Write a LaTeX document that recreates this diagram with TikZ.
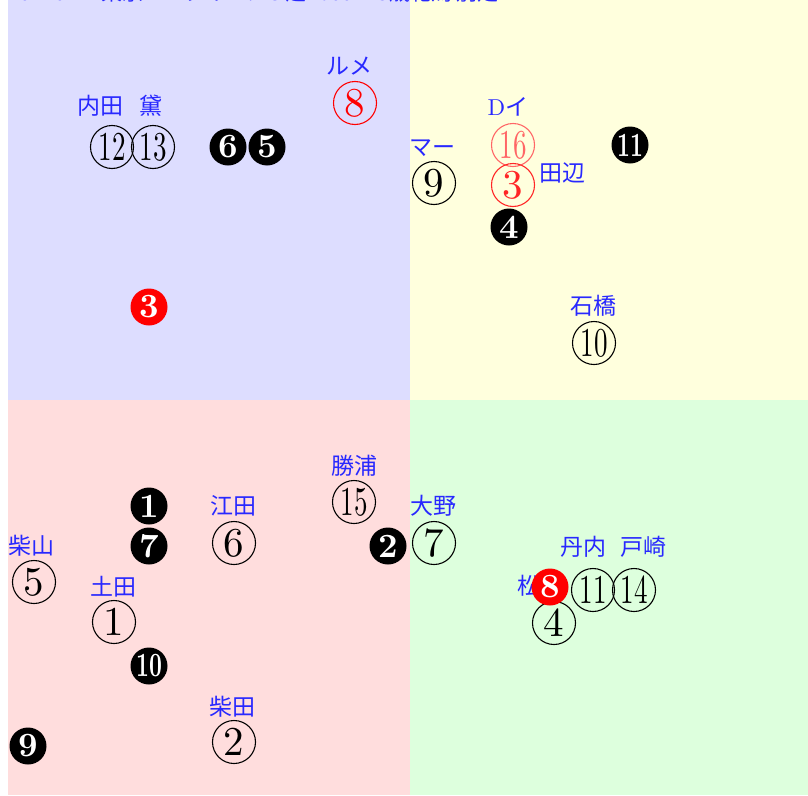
\documentclass[tikz,border=0pt]{standalone}
\usepackage{graphicx}
\usepackage{fontspec}
\newfontfamily\cjk{Noto Sans CJK JP}
\newfontfamily\numfont{lmroman10-regular}[Extension=.otf,BoldFont=lmroman10-bold]
\definecolor{qblue}{HTML}{DDDDFF}
\definecolor{qyellow}{HTML}{FFFFDD}
\definecolor{qpink}{HTML}{FFDDDD}
\definecolor{qgreen}{HTML}{DDFFDD}
\definecolor{jblue}{HTML}{2828FF}
\newcommand{\tw}[1]{\scalebox{0.66}[1]{#1}}

\begin{document}
\begin{tikzpicture}[x=1pt,y=-1pt]
  \def\r{43pt}
  \def\rb{37pt}

\tikzstyle{horse}=[circle,draw,line width=1.1pt,minimum size=\r,inner sep=0pt,font=\numfont\fontsize{41}{41}\selectfont]
\tikzstyle{place}=[circle,fill=black,text=white,minimum size=\rb,inner sep=0pt,font=\numfont\fontsize{34}{34}\selectfont\bfseries]
\tikzstyle{jockey}=[text=jblue,inner sep=0pt,text height=0.8em,text depth=0.1em,font=\cjk\fontsize{23}{23}\selectfont]
\useasboundingbox (0,0) rectangle (808,795);
\fill[qblue] (8,0) rectangle (410,400);
\fill[qyellow] (410,0) rectangle (808,400);
\fill[qpink] (8,400) rectangle (410,795);
\fill[qgreen] (410,400) rectangle (808,795);
\node[anchor=base west,text=jblue,inner sep=0pt,font=\cjk\fontsize{21}{21}\selectfont] (title) at (8,0.5) {20220212東京11R クイーンC 芝1600m 3歳牝馬 別定};
% hollow circles
\node[horse] (h12) at (112,147) {\tw{12}};
\node[horse] (h13) at (153,147) {\tw{13}};
\node[horse,red] (h8) at (355,103) {8};
\node[horse] (h9) at (434,183) {9};
\node[horse,red!60] (h16) at (513,145) {\tw{16}};
\node[horse,red!85] (h3) at (513,185) {3};
\node[horse] (h10) at (594,343) {\tw{10}};
\node[horse] (h15) at (354,502) {\tw{15}};
\node[horse] (h6) at (234,543) {6};
\node[horse] (h7) at (434,543) {7};
\node[horse] (h5) at (34,582) {5};
\node[horse] (h1) at (114,622) {1};
\node[horse] (h2) at (234,742) {2};
\node[horse] (h11) at (593,590) {\tw{11}};
\node[horse] (h14) at (634,590) {\tw{14}};
\node[horse] (h4) at (554,623) {4};
% jockeys
\node[jockey] (j12) at (100,111) {内田};
\node[jockey] (j13) at (151,111) {黛};
\node[jockey] (j8) at (349,71) {ルメ};
\node[jockey] (j9) at (432,152) {マー};
\node[jockey] (j16) at (508,112) {{\numfont D}イ};
\node[jockey] (j3) at (562,178) {田辺};
\node[jockey] (j10) at (593,311) {石橋};
\node[jockey] (j15) at (354,471) {勝浦};
\node[jockey] (j6) at (233,511) {江田};
\node[jockey] (j7) at (433,511) {大野};
\node[jockey] (j5) at (32,551) {柴山};
\node[jockey] (j1) at (113,592) {土田};
\node[jockey] (j2) at (232,712) {柴田};
\node[jockey] (j11) at (583,552) {丹内};
\node[jockey] (j14) at (643,552) {戸崎};
\node[jockey] (j4) at (540,591) {松山};
% finishing order
\node[place] (p1) at (149,506) {1};
\node[place] (p2) at (388,546) {2};
\node[place,fill=red] (p3) at (149,307) {3};
\node[place] (p4) at (509,227) {4};
\node[place] (p5) at (267,147) {5};
\node[place] (p6) at (228,147) {6};
\node[place] (p7) at (149,546) {7};
\node[place,fill=red] (p8) at (550,587) {8};
\node[place] (p9) at (28,746) {9};
\node[place] (p10) at (149,666) {\tw{10}};
\node[place] (p11) at (630,145) {\tw{11}};
\end{tikzpicture}
\end{document}
